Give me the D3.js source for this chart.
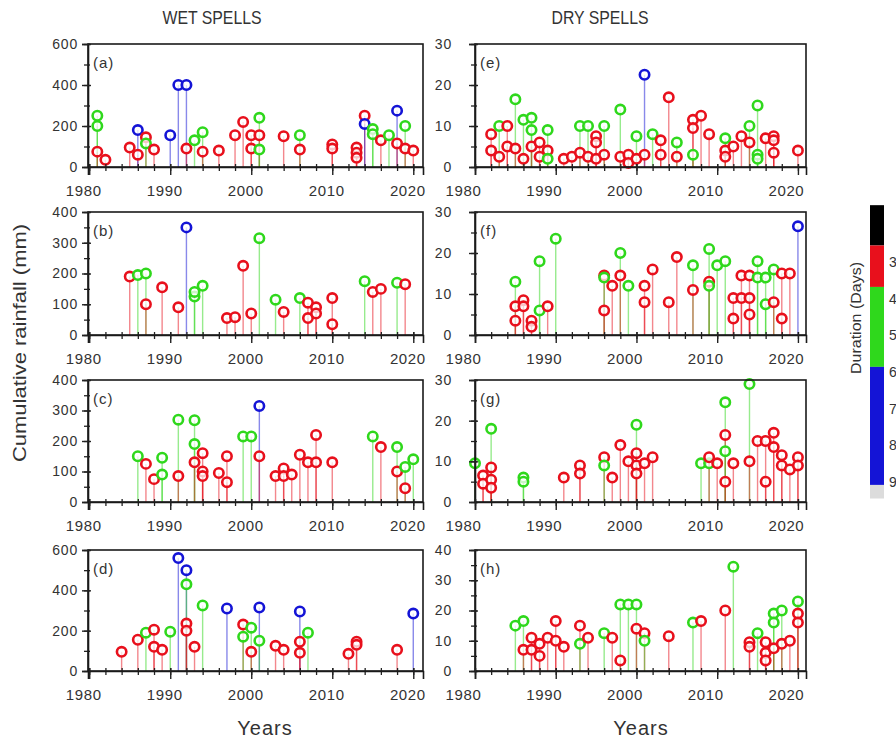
<!DOCTYPE html>
<html>
<head>
<meta charset="utf-8">
<script src="https://cdn.jsdelivr.net/npm/d3@7"></script>
<style>
  body { margin: 0; background: #fff; }
  svg { display: block; font-family: "Liberation Sans", Arial, sans-serif; }
</style>
</head>
<body>
<svg id="chart" width="896" height="740"></svg>
<script>
// Each spell: [year, value, duration in days]
// Wet spells: cumulative rainfall (mm); dry spells: length-related totals
const panelA = [[1981,250,4],[1981,200,4],[1981,75,3],[1982,35,3],[1985,95,3],[1986,60,3],[1986,180,6],[1987,145,3],[1987,115,4],[1988,85,3],[1990,155,6],[1991,400,6],[1992,400,6],[1992,90,3],[1993,130,4],[1994,170,4],[1994,75,3],[1996,80,3],[1998,155,3],[1999,220,3],[2000,155,3],[2000,90,3],[2001,240,4],[2001,155,3],[2001,85,4],[2004,150,3],[2006,155,4],[2006,85,3],[2010,110,3],[2010,90,3],[2013,95,3],[2013,70,3],[2013,45,3],[2014,250,3],[2014,210,6],[2015,185,4],[2015,160,4],[2016,130,3],[2017,155,4],[2018,275,6],[2018,115,3],[2019,200,4],[2019,90,3],[2020,80,3]];
const panelB = [[1985,190,3],[1986,195,4],[1987,200,4],[1987,100,3],[1989,155,3],[1991,90,3],[1992,350,6],[1993,125,4],[1993,140,4],[1994,160,4],[1997,55,3],[1998,58,3],[1999,225,3],[2000,70,3],[2001,315,4],[2003,115,4],[2004,75,3],[2006,120,4],[2007,105,3],[2007,55,3],[2008,90,3],[2008,70,3],[2010,120,3],[2010,35,3],[2014,175,4],[2015,140,3],[2016,150,3],[2018,170,4],[2019,165,3]];
const panelC = [[1986,150,4],[1987,125,3],[1988,75,3],[1989,145,4],[1989,90,4],[1991,270,4],[1991,85,3],[1993,268,4],[1993,190,4],[1993,130,3],[1994,160,3],[1994,100,3],[1994,85,3],[1996,95,3],[1997,150,3],[1997,65,3],[1999,215,4],[2000,215,4],[2001,315,6],[2001,150,3],[2003,85,3],[2004,110,3],[2004,85,3],[2005,90,3],[2006,155,3],[2007,130,3],[2008,220,3],[2008,130,3],[2010,130,3],[2015,215,4],[2016,180,3],[2018,180,4],[2018,100,3],[2019,115,4],[2019,45,3],[2020,140,4]];
const panelD = [[1984,95,3],[1986,155,3],[1987,190,4],[1988,205,3],[1988,120,3],[1989,105,3],[1990,195,4],[1991,560,6],[1992,500,6],[1992,430,4],[1992,235,3],[1992,200,3],[1993,120,3],[1994,325,4],[1997,310,6],[1999,230,3],[1999,170,4],[2000,215,4],[2000,95,3],[2001,315,6],[2001,150,4],[2003,125,3],[2004,105,3],[2006,295,6],[2006,145,3],[2006,90,3],[2007,190,4],[2012,85,3],[2013,145,3],[2013,130,3],[2018,105,3],[2020,285,6]];
const panelE = [[1982,8,3],[1982,4,3],[1983,10,4],[1983,2.5,3],[1984,10,3],[1984,5,3],[1985,16.5,4],[1985,4.5,3],[1986,11.5,4],[1986,2,3],[1987,12,4],[1987,9,4],[1987,5,3],[1988,6,3],[1988,2.5,3],[1989,9,4],[1989,4,3],[1989,2,4],[1991,2,3],[1992,2.5,3],[1993,10,4],[1993,3.5,3],[1994,10,4],[1994,2.5,3],[1995,7.5,3],[1995,6,3],[1995,2,3],[1996,10,4],[1996,3,3],[1998,14,4],[1998,2.5,3],[1999,3,3],[1999,1,3],[2000,7.5,4],[2000,2,3],[2001,22.5,6],[2001,3,3],[2002,8,4],[2003,6.5,3],[2003,3,3],[2004,17,3],[2005,6,4],[2005,2.5,3],[2007,11.5,3],[2007,9.5,3],[2007,3,4],[2008,12.5,3],[2009,8,3],[2011,7,4],[2011,4,3],[2011,2.5,3],[2012,5,3],[2013,7.5,3],[2014,10,4],[2014,6,3],[2015,15,4],[2015,3,4],[2015,2,4],[2016,7,3],[2017,7.5,3],[2017,6.5,3],[2017,3.5,3],[2020,4,3]];
const panelF = [[1985,13,4],[1985,7,3],[1985,3.5,3],[1986,8.5,3],[1986,7,3],[1987,3.5,3],[1987,2,3],[1988,18,4],[1988,6,4],[1989,7,3],[1990,23.5,4],[1996,14.5,3],[1996,14,4],[1996,6,3],[1997,12,3],[1998,20,4],[1998,14.5,3],[1999,12,4],[2001,12,3],[2001,8,3],[2002,16,3],[2004,8,3],[2005,19,3],[2007,17,4],[2007,11,3],[2009,21,4],[2009,13,3],[2009,12,4],[2010,17,4],[2011,18,4],[2012,9,3],[2012,4,3],[2013,14.5,3],[2013,9,3],[2014,14.5,3],[2014,9,3],[2014,5,3],[2015,18,4],[2015,14,4],[2016,14,4],[2016,7.5,4],[2017,16,4],[2017,8,3],[2018,15,3],[2018,4,3],[2019,15,3],[2020,26.5,6]];
const panelG = [[1980,9.5,4],[1981,6.5,3],[1981,4.5,3],[1982,18,4],[1982,8.5,3],[1982,5.5,3],[1982,3.5,3],[1986,6,4],[1986,5,4],[1991,6,3],[1993,9,3],[1993,7,3],[1996,11,3],[1996,9,4],[1997,6,3],[1998,14,3],[1999,10,3],[2000,19,4],[2000,12,3],[2000,9,3],[2000,7,3],[2001,9.5,3],[2002,11,3],[2008,9.5,4],[2009,9.5,4],[2009,11,3],[2010,9.5,3],[2011,24.5,4],[2011,16.5,3],[2011,12.5,4],[2011,5,3],[2012,9.5,3],[2014,29,4],[2014,10,3],[2015,15,3],[2016,15,3],[2016,5,3],[2017,17,3],[2017,13.5,3],[2018,11.5,3],[2018,9,3],[2019,8,3],[2020,11,3],[2020,9,3]];
const panelH = [[1985,15,4],[1986,16.5,4],[1986,7,3],[1987,11,3],[1987,7,3],[1988,9,3],[1988,5,3],[1989,11,3],[1990,16.5,3],[1990,10,3],[1991,8,3],[1993,15,3],[1993,9,4],[1994,11,3],[1996,12.5,4],[1997,11,3],[1998,22,4],[1998,3.5,3],[1999,22,4],[2000,22,4],[2000,14,3],[2001,12.5,3],[2001,10,4],[2004,11.5,3],[2007,16,4],[2008,16.5,3],[2011,20,3],[2012,34.5,4],[2014,9.5,3],[2014,8,3],[2015,12.5,4],[2016,9.5,3],[2016,6,3],[2016,3.5,3],[2017,19,4],[2017,16,4],[2017,7.5,3],[2018,20,4],[2018,9,3],[2019,10,3],[2020,23,4],[2020,19,3],[2020,16,3]];

// Axis ticks and labels
const yearTicks = [1980, 1990, 2000, 2010, 2020];
const yearMinorTicks = d3.range(1980, 2022, 2);
const columnTitles = ["WET SPELLS", "DRY SPELLS"];
const panelLetters = ["(a)", "(b)", "(c)", "(d)", "(e)", "(f)", "(g)", "(h)"];
const yMaxima = [600, 400, 400, 600, 30, 30, 30, 40];
const yMajorSteps = [200, 100, 100, 200, 10, 10, 10, 10];
const yMinorSteps = [100, 50, 50, 100, 5, 5, 5, 5];

// Duration colour bar: band edges (days) and colours
const durationEdges = [1.45, 2.55, 3.68, 5.86, 9.08, 9.45];
const durationColors = ["#000000", "#e8101c", "#2fd81c", "#1414d6", "#dcdcdc"];
const durationTicks = [3, 4, 5, 6, 7, 8, 9];

const panelData = [panelA, panelB, panelC, panelD, panelE, panelF, panelG, panelH];

// ---- layout ----
const svg = d3.select("#chart");
const columns = [
  { x0: 88, x1: 423, domain: [1979.85, 2021.2], labelEnd: 78, xLabelShift: -6 },
  { x0: 475, x1: 806, domain: [1980, 2021], labelEnd: 452, xLabelShift: -12 }
];
const rows = [[44, 167], [212, 335], [380, 502], [550, 671]];

const colorOf = d3.scaleThreshold()
  .domain(durationEdges.slice(1, -1))
  .range(durationColors);

panelData.forEach((data, i) => {
  const col = columns[Math.floor(i / 4)];
  const [top, bottom] = rows[i % 4];
  const x = d3.scaleLinear().domain(col.domain).range([col.x0, col.x1]);
  const y = d3.scaleLinear().domain([0, yMaxima[i]]).range([bottom, top]);
  const g = svg.append("g");

  // stems
  g.selectAll("line.stem").data(data).join("line")
    .attr("class", "stem")
    .attr("x1", d => x(d[0])).attr("x2", d => x(d[0]))
    .attr("y1", y(0)).attr("y2", d => y(d[1]))
    .attr("stroke", d => colorOf(d[2]))
    .attr("stroke-opacity", 0.5)
    .attr("stroke-width", 1.4);

  // markers
  g.selectAll("circle").data(data).join("circle")
    .attr("cx", d => x(d[0])).attr("cy", d => y(d[1]))
    .attr("r", 4.7)
    .attr("fill", "#fff").attr("fill-opacity", 0.75)
    .attr("stroke", d => colorOf(d[2]))
    .attr("stroke-width", 2.6);

  // frame
  g.append("rect")
    .attr("x", col.x0).attr("y", top)
    .attr("width", col.x1 - col.x0).attr("height", bottom - top)
    .attr("fill", "none").attr("stroke", "#1a1a1a").attr("stroke-width", 1.6);

  // y axis: minor then major
  const yMinor = d3.axisLeft(y).tickValues(d3.range(0, yMaxima[i] + 0.001, yMinorSteps[i])).tickSize(4).tickFormat("");
  const gyMinor = g.append("g").attr("transform", `translate(${col.x0},0)`).call(yMinor);
  gyMinor.select(".domain").remove();
  gyMinor.selectAll(".tick line").attr("x1", 2).attr("stroke", "#222").attr("stroke-width", 1.3);

  const padY = (col.x0 - col.labelEnd) - 6;
  const yMajor = d3.axisLeft(y).tickValues(d3.range(0, yMaxima[i] + 0.001, yMajorSteps[i])).tickSize(6).tickPadding(padY).tickFormat(d3.format("d"));
  const gy = g.append("g").attr("transform", `translate(${col.x0},0)`).call(yMajor);
  gy.select(".domain").attr("stroke", "#1a1a1a").attr("stroke-width", 1.6);
  gy.selectAll(".tick line").attr("x1", 3).attr("stroke", "#222").attr("stroke-width", 1.4);
  gy.selectAll(".tick text").attr("font-size", 14).attr("fill", "#333").attr("letter-spacing", 0.8).attr("font-family", null);

  // x axis: minor then major
  const xMinor = d3.axisBottom(x).tickValues(yearMinorTicks).tickSize(4).tickFormat("");
  const gxMinor = g.append("g").attr("transform", `translate(0,${y(0)})`).call(xMinor);
  gxMinor.select(".domain").remove();
  gxMinor.selectAll(".tick line").attr("y1", -3).attr("stroke", "#222").attr("stroke-width", 1.3);

  const xMajor = d3.axisBottom(x).tickValues(yearTicks).tickSize(8).tickPadding(10).tickFormat(d3.format("d"));
  const gx = g.append("g").attr("transform", `translate(0,${y(0)})`).call(xMajor);
  gx.select(".domain").attr("stroke", "#1a1a1a").attr("stroke-width", 1.6);
  gx.selectAll(".tick line").attr("y1", -3).attr("stroke", "#222").attr("stroke-width", 1.4);
  gx.selectAll(".tick text").attr("font-size", 15).attr("fill", "#333").attr("letter-spacing", 0.6)
    .attr("dx", col.xLabelShift).attr("font-family", null);

  // panel letter
  g.append("text")
    .attr("x", col.x0 + 5).attr("y", top + 24)
    .attr("font-size", 15).attr("fill", "#333").attr("letter-spacing", 1)
    .text(panelLetters[i]);
});

// column titles
[[212, columnTitles[0]], [600, columnTitles[1]]].forEach(([cx, label]) => {
  svg.append("text")
    .attr("transform", `translate(${cx},24) scale(0.88,1)`)
    .attr("text-anchor", "middle").attr("font-size", 18).attr("fill", "#333")
    .text(label);
});

// axis titles
svg.append("text")
  .attr("transform", "translate(26,343) rotate(-90) scale(1,0.86)")
  .attr("text-anchor", "middle").attr("font-size", 22).attr("fill", "#333")
  .text("Cumulative rainfall (mm)");

[265, 641].forEach(cx => {
  svg.append("text")
    .attr("x", cx).attr("y", 735)
    .attr("text-anchor", "middle").attr("font-size", 20).attr("fill", "#333")
    .attr("letter-spacing", 1)
    .text("Years");
});

// duration colour bar
const cb = d3.scaleLinear().domain([3, 9]).range([262, 482]);
const bands = durationColors.map((c, k) => ({ c, a: durationEdges[k], b: durationEdges[k + 1] }));
svg.append("g").selectAll("rect").data(bands).join("rect")
  .attr("x", 870).attr("width", 14)
  .attr("y", d => cb(d.a)).attr("height", d => cb(d.b) - cb(d.a))
  .attr("fill", d => d.c);

svg.append("g").selectAll("text").data(durationTicks).join("text")
  .attr("x", 889).attr("y", d => cb(d))
  .attr("dy", "0.36em").attr("font-size", 14).attr("fill", "#333")
  .text(d => d);

svg.append("text")
  .attr("transform", "translate(861,318) rotate(-90) scale(1,0.9)")
  .attr("text-anchor", "middle").attr("font-size", 16).attr("fill", "#333")
  .text("Duration (Days)");
</script>
</body>
</html>
